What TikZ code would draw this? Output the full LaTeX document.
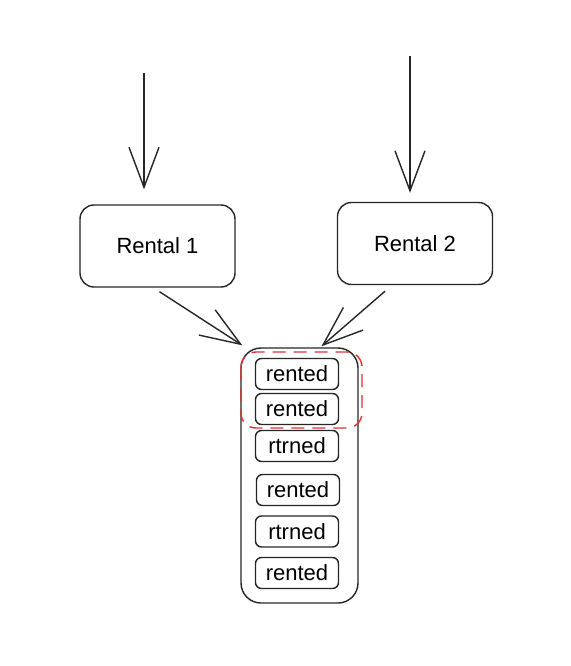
\documentclass[tikz,border=0pt]{standalone}
\usepackage{fontspec}
\setmainfont{Liberation Sans}
\usetikzlibrary{arrows.meta}
\definecolor{markred}{RGB}{224,49,49}
\tikzset{
  sketch/.style={draw=black!85, line width=1.4pt},
  rental/.style={sketch, rounded corners=14pt, minimum width=155pt,
    minimum height=82pt, font=\fontsize{22}{24}\selectfont},
  store/.style={sketch, rounded corners=20pt, minimum width=117pt,
    minimum height=255pt},
  event/.style={sketch, rounded corners=6pt, minimum width=83pt,
    minimum height=31pt, inner sep=0pt, font=\fontsize{22}{24}\selectfont},
  flow/.style={sketch, -{Straight Barb[length=40pt,width=30pt,line width=1.4pt]}},
}
\begin{document}
\begin{tikzpicture}[x=1pt, y=-1pt]
      \useasboundingbox (0,0) rectangle (570,666);
      \draw
        (157.5,246) node[rental] (r1){Rental 1}
        (415,243.5) node[rental] (r2){Rental 2}
        (299.5,475.5) node[store] (log){}
        (297,374) node[event] (e1){rented}
        (297,409) node[event] (e2){rented}
        (297,446) node[event] (e3){rtrned}
        (298,490) node[event] (e4){rented}
        (297,531.5) node[event] (e5){rtrned}
        (297,573) node[event] (e6){rented};
      \coordinate (in1) at (144,73);
      \coordinate (in2) at (410,56);
      % the two rentals that touch the same log
      \draw[markred, line width=1.4pt, dash pattern=on 13pt off 8pt,
        rounded corners=15pt] (241,352) rectangle (362,428);
      \begin{scope}[flow]
        \draw[shorten >=15pt] (in1) to (in1 |- r1.north);
        \draw[shorten >=9pt] (in2) to (in2 |- r2.north);
        \draw ([xshift=2pt,yshift=-4pt]r1.south) to ([xshift=2pt,yshift=2pt]log.north west);
        \draw ([xshift=-30pt,yshift=-6pt]r2.south) to ([xshift=22pt,yshift=1pt]log.north);
      \end{scope}
    \end{tikzpicture}
\end{document}
